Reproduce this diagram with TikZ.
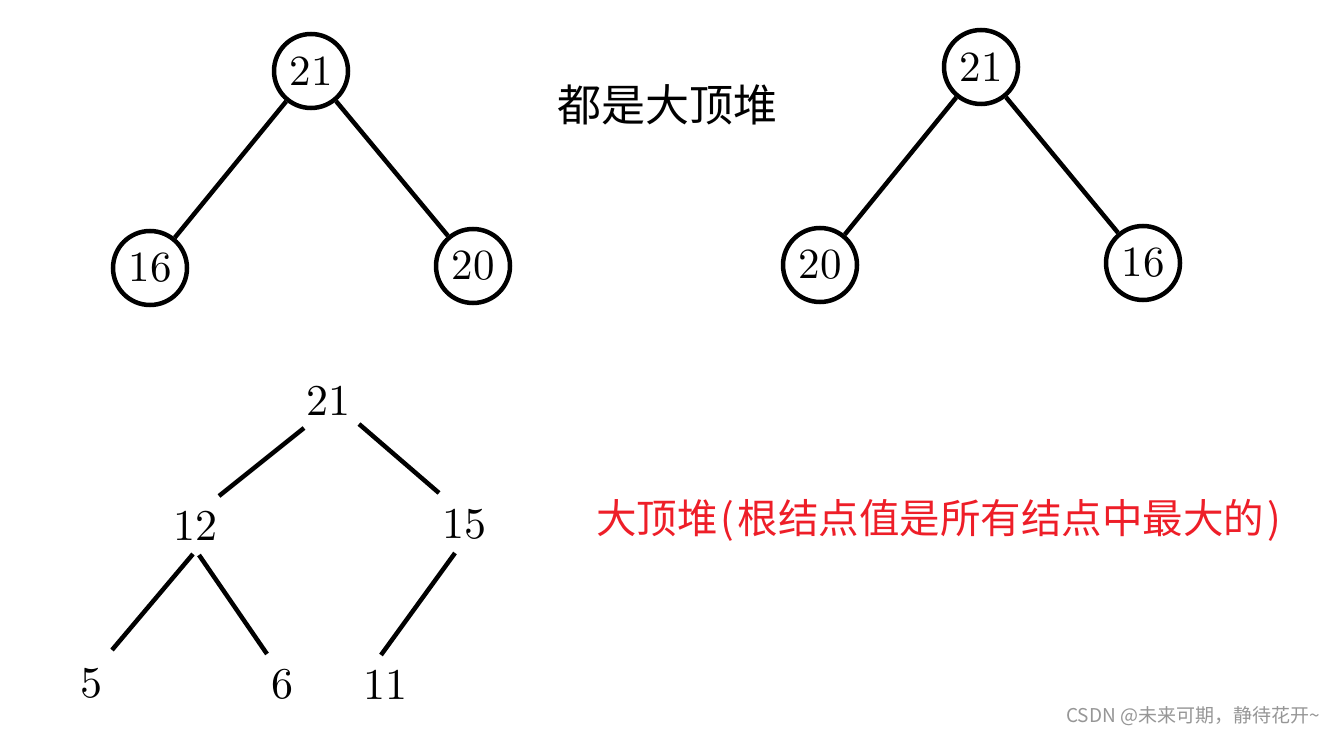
\documentclass[tikz,border=0pt]{standalone}
\usepackage{fontspec}
\newfontfamily\cjk{Noto Sans CJK SC}
\newfontfamily\numfont{lmroman10-regular.otf}
\definecolor{heapred}{RGB}{238,30,40}
\definecolor{wmgray}{RGB}{150,150,150}
\tikzset{
  circnode/.style={circle, draw=black, line width=4.5pt, minimum size=74pt, inner sep=0pt,
    font=\numfont\fontsize{43}{43}\selectfont},
  numnode/.style={inner sep=0pt, font=\numfont\fontsize{44}{44}\selectfont},
  edge/.style={line width=4.5pt, black},
}
\begin{document}
\begin{tikzpicture}[x=1pt, y=-1pt]
\useasboundingbox (0,0) rectangle (1335,735);
\fill[white] (0,0) rectangle (1335,735);
% top-left heap
\node[circnode] (a21) at (311,71) {21};
\node[circnode] (a16) at (150,268) {16};
\node[circnode] (a20) at (473,266) {20};
\draw[edge] (a21) -- (a16);
\draw[edge] (a21) -- (a20);
% top-right heap
\node[circnode] (c21) at (981,67) {21};
\node[circnode] (c20) at (820,265) {20};
\node[circnode] (c16) at (1143,263) {16};
\draw[edge] (c21) -- (c20);
\draw[edge] (c21) -- (c16);
% caption
\node[font=\cjk\fontsize{44}{44}\selectfont, inner sep=0pt] (cap) at (667,105) {都是大顶堆};
% bottom heap
\node[numnode] (b21) at (328,401) {21};
\node[numnode] (b12) at (195,526) {12};
\node[numnode] (b15) at (464,524) {15};
\node[numnode] (b5) at (91,683) {5};
\node[numnode] (b6) at (282,684) {6};
\node[numnode] (b11) at (385,685) {11};
\draw[edge] ([shift={(-24,27)}]b21.center) -- ([shift={(24,-30)}]b12.center);
\draw[edge] ([shift={(31,23)}]b21.center) -- ([shift={(-25,-31)}]b15.center);
\draw[edge] ([shift={(-2,28)}]b12.center) -- ([shift={(21,-33)}]b5.center);
\draw[edge] ([shift={(4,29)}]b12.center) -- ([shift={(-15,-30)}]b6.center);
\draw[edge] ([shift={(-9,29)}]b15.center) -- ([shift={(-4,-30)}]b11.center);
% red definition
\node[font=\cjk\fontsize{40.5}{40.5}\selectfont, text=heapred, inner sep=0pt, anchor=west] (def) at (596,520)
  {大顶堆\makebox[0.5em]{(}根结点值是所有结点中最大的\makebox[0.5em]{)}};
% watermark
\node[font=\cjk\fontsize{19}{19}\selectfont, text=wmgray, inner sep=0pt, anchor=east] (wm) at (1320,716)
  {CSDN @未来可期，静待花开\textasciitilde};
\end{tikzpicture}
\end{document}
